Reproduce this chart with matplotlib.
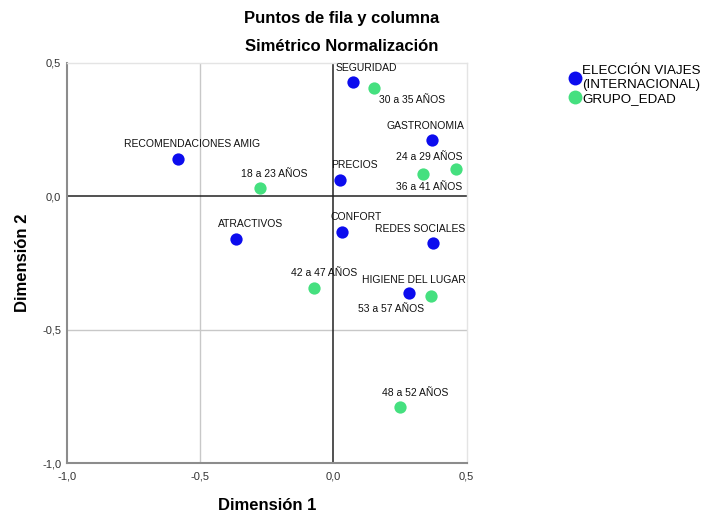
import matplotlib
matplotlib.use("Agg")
import matplotlib.pyplot as plt
from matplotlib.lines import Line2D

plt.rcParams['font.family'] = ['Liberation Sans', 'DejaVu Sans']

# ---- data ----
row_labels = ["SEGURIDAD", "GASTRONOMIA", "RECOMENDACIONES AMIG", "PRECIOS",
              "ATRACTIVOS", "CONFORT", "REDES SOCIALES", "HIGIENE DEL LUGAR"]
row_x = [0.075, 0.371, -0.582, 0.025, -0.365, 0.031, 0.375, 0.285]
row_y = [0.426, 0.211, 0.141, 0.061, -0.161, -0.133, -0.174, -0.361]

col_labels = ["30 a 35 AÑOS", "24 a 29 AÑOS", "36 a 41 AÑOS", "18 a 23 AÑOS",
              "42 a 47 AÑOS", "53 a 57 AÑOS", "48 a 52 AÑOS"]
col_x = [0.153, 0.460, 0.336, -0.276, -0.073, 0.365, 0.250]
col_y = [0.405, 0.102, 0.084, 0.032, -0.345, -0.375, -0.791]

series_names = ["ELECCIÓN VIAJES\n(INTERNACIONAL)", "GRUPO_EDAD"]
tick_values = [-1.0, -0.5, 0.0, 0.5]
tick_labels = ["-1,0", "-0,5", "0,0", "0,5"]

# ---- layout (label offsets in pixels: dx right, dy up) ----
row_offsets = [(13, 14), (-7, 14), (14, 15), (14, 15), (15, 15), (14, 15), (-13, 14), (5, 13)]
col_offsets = [(38, -12), (-27, 12), (6, -13), (14, 14), (10, 15), (-40, -13), (15, 14)]

BLUE = '#0c0cee'
GREEN = '#45e07f'

fig = plt.figure(figsize=(7.07, 5.13), dpi=100)
ax = fig.add_axes([66.7/707, 1-463.3/513, 400/707, 400.6/513])

ax.set_xlim(-1.0, 0.5)
ax.set_ylim(-1.0, 0.5)

# reference lines
ax.axvline(-0.5, color='#c8c8c8', lw=1.0, zorder=1)
ax.axhline(-0.5, color='#c8c8c8', lw=1.0, zorder=1)
ax.axvline(0.0, color='#222222', lw=1.1, zorder=1)
ax.axhline(0.0, color='#222222', lw=1.1, zorder=1)

ax.scatter(row_x, row_y, s=78, color=BLUE, zorder=3, linewidths=0)
ax.scatter(col_x, col_y, s=78, color=GREEN, zorder=3, linewidths=0)

for lab, x, y, off in zip(row_labels, row_x, row_y, row_offsets):
    ax.annotate(lab, (x, y), xytext=off, textcoords='offset pixels',
                ha='center', va='center', fontsize=7.5, color='#111111', zorder=4)
for lab, x, y, off in zip(col_labels, col_x, col_y, col_offsets):
    ax.annotate(lab, (x, y), xytext=off, textcoords='offset pixels',
                ha='center', va='center', fontsize=7.5, color='#111111', zorder=4)

ax.set_xticks(tick_values)
ax.set_xticklabels(tick_labels)
ax.set_yticks(tick_values)
ax.set_yticklabels(tick_labels)
ax.tick_params(axis='x', length=0, labelsize=8, colors='#333333', pad=6)
ax.tick_params(axis='y', length=0, labelsize=8, colors='#333333', pad=4)

for side in ['left', 'bottom']:
    ax.spines[side].set_color('#8c8c8c')
    ax.spines[side].set_linewidth(1.5)
for side in ['top', 'right']:
    ax.spines[side].set_color('#e4e4e4')
    ax.spines[side].set_linewidth(1.0)

ax.set_xlabel("Dimensión 1", fontsize=12, fontweight='bold', labelpad=12)
ax.set_ylabel("Dimensión 2", fontsize=12, fontweight='bold', labelpad=9)

fig.text(342/707, 1-18/513, "Puntos de fila y columna", ha='center', va='center',
         fontsize=12, fontweight='bold')
fig.text(342/707, 1-47/513, "Simétrico Normalización", ha='center', va='center',
         fontsize=12, fontweight='bold')

handles = [Line2D([], [], marker='o', linestyle='', markersize=10, color=BLUE, markeredgewidth=0),
           Line2D([], [], marker='o', linestyle='', markersize=10, color=GREEN, markeredgewidth=0)]
fig.legend(handles, series_names, loc='upper left', bbox_to_anchor=(569/707, 1-65/513),
           frameon=False, fontsize=9.6, handletextpad=0.1, borderpad=0, labelspacing=0.12,
           handlelength=0.9, borderaxespad=0)

fig.savefig("out.png", dpi=100, facecolor='white')
